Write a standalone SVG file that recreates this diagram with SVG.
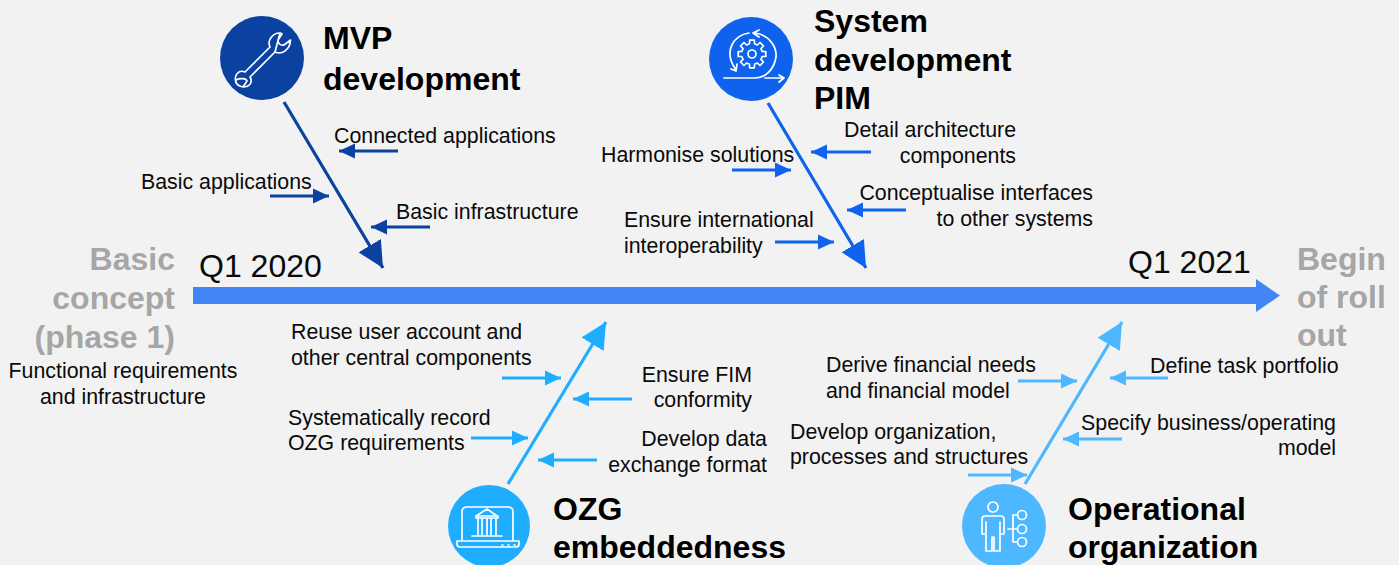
<svg xmlns="http://www.w3.org/2000/svg" width="1399" height="565" viewBox="0 0 1399 565">
<style>
text{font-family:"Liberation Sans",Arial,sans-serif;font-size:21.33px;fill:#0A0A0A}
.h{font-size:32px;font-weight:700;fill:#000}
.g{font-size:32px;font-weight:700;fill:#A6A6A6}
.q{font-size:32px}
.e{text-anchor:end}.m{text-anchor:middle}
.ic{fill:none;stroke:#fff;stroke-width:1.7;stroke-linejoin:round;stroke-linecap:round}
line{fill:none}
.s{stroke-width:3}.b{stroke-width:3.2}
.c1{stroke:#0B41A0}.c2{stroke:#0F62EE}.c3{stroke:#1FADFF}.c4{stroke:#4DB8FF}
</style>
<defs>
<marker id="s1" markerUnits="userSpaceOnUse" markerWidth="17" markerHeight="17" refX="16" refY="8" orient="auto"><path d="M0 0.5L16 8L0 15.5Z" fill="#0B41A0"/></marker>
<marker id="s2" markerUnits="userSpaceOnUse" markerWidth="17" markerHeight="17" refX="16" refY="8" orient="auto"><path d="M0 0.5L16 8L0 15.5Z" fill="#0F62EE"/></marker>
<marker id="s3" markerUnits="userSpaceOnUse" markerWidth="17" markerHeight="17" refX="16" refY="8" orient="auto"><path d="M0 0.5L16 8L0 15.5Z" fill="#1FADFF"/></marker>
<marker id="s4" markerUnits="userSpaceOnUse" markerWidth="17" markerHeight="17" refX="16" refY="8" orient="auto"><path d="M0 0.5L16 8L0 15.5Z" fill="#4DB8FF"/></marker>
<marker id="b1" markerUnits="userSpaceOnUse" markerWidth="27" markerHeight="28" refX="26" refY="14" orient="auto"><path d="M0 1L26 14L0 27Z" fill="#0B41A0"/></marker>
<marker id="b2" markerUnits="userSpaceOnUse" markerWidth="27" markerHeight="28" refX="26" refY="14" orient="auto"><path d="M0 1L26 14L0 27Z" fill="#0F62EE"/></marker>
<marker id="b3" markerUnits="userSpaceOnUse" markerWidth="27" markerHeight="28" refX="26" refY="14" orient="auto"><path d="M0 1L26 14L0 27Z" fill="#1FADFF"/></marker>
<marker id="b4" markerUnits="userSpaceOnUse" markerWidth="27" markerHeight="28" refX="26" refY="14" orient="auto"><path d="M0 1L26 14L0 27Z" fill="#4DB8FF"/></marker>
</defs>
<rect width="1399" height="565" fill="#F2F2F2"/>
<g id="connectors">
<polygon id="spine" points="193,287 1256,287 1256,279 1280,295.5 1256,312 1256,304 193,304" fill="#4285F4"/>
<line class="b c1" x1="284" y1="102" x2="383" y2="268" marker-end="url(#b1)"/>
<line class="s c1" x1="398" y1="151" x2="339" y2="151" marker-end="url(#s1)"/>
<line class="s c1" x1="270" y1="196" x2="329" y2="196" marker-end="url(#s1)"/>
<line class="s c1" x1="430" y1="227" x2="371" y2="227" marker-end="url(#s1)"/>
<line class="b c2" x1="768" y1="103" x2="866" y2="268" marker-end="url(#b2)"/>
<line class="s c2" x1="871" y1="152" x2="811" y2="152" marker-end="url(#s2)"/>
<line class="s c2" x1="732" y1="170" x2="791" y2="170" marker-end="url(#s2)"/>
<line class="s c2" x1="906" y1="210" x2="847" y2="210" marker-end="url(#s2)"/>
<line class="s c2" x1="775" y1="242" x2="834" y2="242" marker-end="url(#s2)"/>
<line class="b c3" x1="508" y1="484" x2="606" y2="322" marker-end="url(#b3)"/>
<line class="s c3" x1="502" y1="378" x2="561" y2="378" marker-end="url(#s3)"/>
<line class="s c3" x1="632" y1="399" x2="573" y2="399" marker-end="url(#s3)"/>
<line class="s c3" x1="471" y1="438" x2="528" y2="438" marker-end="url(#s3)"/>
<line class="s c3" x1="597" y1="460" x2="538" y2="460" marker-end="url(#s3)"/>
<line class="b c4" x1="1025" y1="484" x2="1122" y2="322" marker-end="url(#b4)"/>
<line class="s c4" x1="1018" y1="381" x2="1077" y2="381" marker-end="url(#s4)"/>
<line class="s c4" x1="1168" y1="378" x2="1110" y2="378" marker-end="url(#s4)"/>
<line class="s c4" x1="968" y1="475" x2="1027" y2="475" marker-end="url(#s4)"/>
<line class="s c4" x1="1122" y1="439" x2="1063" y2="439" marker-end="url(#s4)"/>
</g>
<g id="start">
<text class="g e" x="175" y="270">Basic</text>
<text class="g e" x="175" y="309">concept</text>
<text class="g e" x="175" y="348">(phase 1)</text>
<text class="m" x="123" y="378">Functional requirements</text>
<text class="m" x="123" y="404">and infrastructure</text>
<text class="q" x="199" y="277">Q1 2020</text>
</g>
<g id="end">
<text class="q" x="1128" y="273">Q1 2021</text>
<text class="g" x="1297" y="270">Begin</text>
<text class="g" x="1297" y="308">of roll</text>
<text class="g" x="1297" y="346">out</text>
</g>
<g id="mvp">
<circle cx="262" cy="58" r="42" fill="#0B41A0"/>
<path class="ic" d="M270 47L245 72M275 52L250 77M280 33C272 33 267 41 270 47M275 52C282 55 290 50 290.500 40L284 45C280 46 278 43 278 40L282 34C281 33 281 33 280 33ZM245 72C238 69 235 76 235.500 79C235 84 238 86 243 87L247 81C246 78 240 78 236 80M250 77C253 82 250 87 243 87"/>
<text class="h" x="323" y="49">MVP</text>
<text class="h" x="323" y="90">development</text>
<text x="334" y="143">Connected applications</text>
<text x="141" y="189">Basic applications</text>
<text x="396" y="219">Basic infrastructure</text>
</g>
<g id="pim">
<circle cx="751" cy="59" r="42" fill="#0F62EE"/>
<g class="ic">
<circle cx="752" cy="54" r="4"/>
<polygon transform="translate(752 54)" points="-2.400,-13.800 2.400,-13.800 2.500,-10.200 5.400,-9 8,-11.500 11.500,-8 9,-5.400 10.200,-2.500 13.800,-2.400 13.800,2.400 10.200,2.500 9,5.400 11.500,8 8,11.500 5.400,9 2.500,10.200 2.400,13.800 -2.400,13.800 -2.500,10.200 -5.400,9 -8,11.500 -11.500,8 -9,5.400 -10.200,2.500 -13.800,2.400 -13.800,-2.400 -10.200,-2.500 -9,-5.400 -11.500,-8 -8,-11.500 -5.400,-9 -2.500,-10.200"/>
<path d="M749 33C735 35 722 50 736 70M731 69L736 71L737 64M759 30L753 33L759 37M755 33C770 35 777 48 776 57C774 70 765 78 755 78L724 78M765 78L784 78M779 75L784 78L779 82"/>
</g>
<text class="h" x="814" y="32">System</text>
<text class="h" x="814" y="71">development</text>
<text class="h" x="814" y="109">PIM</text>
<text class="e" x="1016" y="137">Detail architecture</text>
<text class="e" x="1016" y="163">components</text>
<text x="601" y="162">Harmonise solutions</text>
<text class="e" x="1093" y="200">Conceptualise interfaces</text>
<text class="e" x="1093" y="226">to other systems</text>
<text x="624" y="227">Ensure international</text>
<text x="624" y="253">interoperability</text>
</g>
<g id="ozg">
<circle cx="489" cy="526" r="41" fill="#1FADFF"/>
<g class="ic">
<path d="M462 540L462 512Q462 507 467 507L508 507Q513 507 513 512L513 540M457 541L519 541L519 544Q519 547 516 547L460 547Q457 547 457 544ZM502 545L503 545M508 545L509 545M514 545L515 545"/>
<path d="M476 516L487 509L497 516ZM476 516L476 518L498 518L498 516M478 518L478 535M482 518L482 535M487 518L487 535M491 518L491 535M496 518L496 535M472 536L502 536"/>
</g>
<text class="h" x="553" y="520">OZG</text>
<text class="h" x="553" y="558">embeddedness</text>
<text x="291" y="339">Reuse user account and</text>
<text x="291" y="365">other central components</text>
<text x="288" y="425">Systematically record</text>
<text x="288" y="450">OZG requirements</text>
<text class="e" x="752" y="382">Ensure FIM</text>
<text class="e" x="752" y="407">conformity</text>
<text class="e" x="767" y="446">Develop data</text>
<text class="e" x="767" y="472">exchange format</text>
</g>
<g id="ops">
<circle cx="1004" cy="526" r="42" fill="#4DB8FF"/>
<g class="ic">
<circle cx="993" cy="507" r="5"/>
<path d="M985 516L1001 516Q1004 516 1004 519L1004 534L1000 534L1000 551L994 551L994 537L992 537L992 551L986 551L986 534L982 534L982 519Q982 516 985 516ZM986 522L986 534M1000 522L1000 534"/>
<circle cx="1022" cy="515" r="4.500"/><circle cx="1022" cy="529" r="4.500"/><circle cx="1022" cy="542" r="4.500"/>
<path d="M1008 529L1017 529M1013 515L1017.500 515M1013 515L1013 542L1017.500 542"/>
</g>
<text class="h" x="1068" y="520">Operational</text>
<text class="h" x="1068" y="558">organization</text>
<text x="826" y="372">Derive financial needs</text>
<text x="826" y="398">and financial model</text>
<text x="1150" y="373">Define task portfolio</text>
<text class="e" x="1336" y="430">Specify business/operating</text>
<text class="e" x="1336" y="455">model</text>
<text x="790" y="439">Develop organization,</text>
<text x="790" y="464">processes and structures</text>
</g>
</svg>
